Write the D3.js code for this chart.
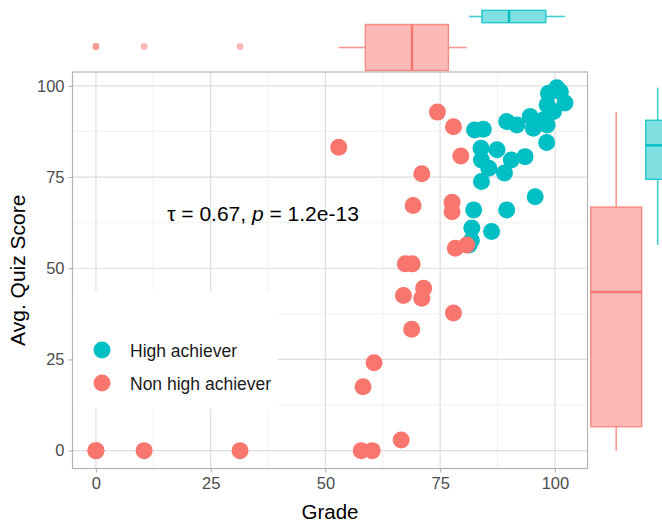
<!DOCTYPE html>
<html>
<head>
<meta charset="utf-8">
<script src="https://cdn.jsdelivr.net/npm/d3@7"></script>
<style>
  body { margin: 0; background: #fff; }
  text { font-family: "Liberation Sans", Arial, sans-serif; }
</style>
</head>
<body>
<div id="chart"></div>
<script>
// grade vs quiz score, split by achiever group
var groups = ["High achiever", "Non high achiever"];
var colors = ["#00BFC4", "#F8766D"];

var highGrade = [82.5, 84.4, 89.5, 91.7, 94.6, 95.3, 98.3, 98.2, 83.9, 87.4, 93.5, 84.0, 90.5, 85.6, 89.0,
    84.0, 95.7, 82.3, 89.5, 81.9, 86.2, 81.3, 98.6, 101.2, 102.2, 98.3, 99.7, 100.4, 97.5, 81.8];
var highQuiz = [87.9, 88.1, 90.2, 89.3, 91.6, 88.4, 89.3, 84.5, 82.9, 82.5, 80.6, 79.7, 79.7, 77.4, 76.1,
    73.8, 69.6, 66.0, 66.0, 61.0, 60.1, 56.4, 98.0, 98.4, 95.3, 94.8, 93.0, 99.5, 90.7, 57.6];

var nonGrade = [0, 0, 10.5, 31.4, 52.9, 57.8, 60.2, 58.2, 60.6, 66.5, 67.0, 67.4, 68.9, 68.8, 69.1,
    71.4, 71.0, 71.0, 74.4, 77.9, 77.6, 77.6, 78.3, 77.9, 79.5, 80.8];
var nonQuiz = [0, 0, 0, 0, 83.2, 0, 0, 17.5, 24.1, 2.9, 42.5, 51.2, 51.2, 33.3, 67.2,
    44.5, 41.8, 75.9, 92.8, 88.8, 68.1, 65.5, 55.5, 37.7, 80.8, 56.4];

var ticks = [0, 25, 50, 75, 100];
var minorTicks = [12.5, 37.5, 62.5, 87.5];
var annotation = {tau: "0.67", p: "1.2e-13"};

var width = 662, height = 526;
var panel = {left: 72.5, right: 587.5, top: 72, bottom: 468.5};

var svg = d3.select("#chart").append("svg")
    .attr("width", width)
    .attr("height", height);

var x = d3.scaleLinear().domain([-5.1, 107.1]).range([panel.left, panel.right]);
var y = d3.scaleLinear().domain([-4.9, 103.8]).range([panel.bottom, panel.top]);

// grid
var grid = svg.append("g");
grid.selectAll(".minx").data(minorTicks).enter().append("line")
    .attr("x1", d => x(d)).attr("x2", d => x(d))
    .attr("y1", panel.top).attr("y2", panel.bottom)
    .attr("stroke", "#EBEBEB").attr("stroke-width", 0.7);
grid.selectAll(".miny").data(minorTicks).enter().append("line")
    .attr("y1", d => y(d)).attr("y2", d => y(d))
    .attr("x1", panel.left).attr("x2", panel.right)
    .attr("stroke", "#EBEBEB").attr("stroke-width", 0.7);
grid.selectAll(".majx").data(ticks).enter().append("line")
    .attr("x1", d => x(d)).attr("x2", d => x(d))
    .attr("y1", panel.top).attr("y2", panel.bottom)
    .attr("stroke", "#DEDEDE").attr("stroke-width", 1.2);
grid.selectAll(".majy").data(ticks).enter().append("line")
    .attr("y1", d => y(d)).attr("y2", d => y(d))
    .attr("x1", panel.left).attr("x2", panel.right)
    .attr("stroke", "#DEDEDE").attr("stroke-width", 1.2);

// axes
var xAxis = svg.append("g")
    .attr("transform", "translate(0," + panel.bottom + ")")
    .call(d3.axisBottom(x).tickValues(ticks).tickSize(4).tickPadding(5));
var yAxis = svg.append("g")
    .attr("transform", "translate(" + panel.left + ",0)")
    .call(d3.axisLeft(y).tickValues(ticks).tickSize(4).tickPadding(4));
[xAxis, yAxis].forEach(function (a) {
    a.select(".domain").remove();
    a.selectAll(".tick line").attr("stroke", "#B3B3B3").attr("stroke-width", 1.1);
    a.selectAll(".tick text").attr("fill", "#4D4D4D").attr("font-size", "16.5px")
        .attr("font-family", "Liberation Sans, Arial, sans-serif");
});

// points
var highPts = highGrade.map((g, i) => ({g: g, q: highQuiz[i]}));
var nonPts = nonGrade.map((g, i) => ({g: g, q: nonQuiz[i]}));

svg.append("g").selectAll("circle").data(highPts).enter().append("circle")
    .attr("cx", d => x(d.g)).attr("cy", d => y(d.q)).attr("r", 8.5)
    .attr("fill", colors[0]);
svg.append("g").selectAll("circle").data(nonPts).enter().append("circle")
    .attr("cx", d => x(d.g)).attr("cy", d => y(d.q)).attr("r", 8.5)
    .attr("fill", colors[1]);

// panel border
svg.append("rect")
    .attr("x", panel.left).attr("y", panel.top)
    .attr("width", panel.right - panel.left).attr("height", panel.bottom - panel.top)
    .attr("fill", "none").attr("stroke", "#B3B3B3").attr("stroke-width", 1.2);

// legend (inside panel, white background)
var legend = svg.append("g");
legend.append("rect").attr("x", panel.left + 1).attr("y", 291).attr("width", 204).attr("height", 118)
    .attr("fill", "#fff");
groups.forEach(function (g, i) {
    var cy = 350 + i * 33;
    legend.append("circle").attr("cx", 102).attr("cy", cy).attr("r", 8.5).attr("fill", colors[i]);
    legend.append("text").attr("x", 130).attr("y", cy + 6.5)
        .attr("font-size", "17.5px").attr("fill", "#1A1A1A").text(g);
});

// correlation annotation
var ann = svg.append("text").attr("x", 263).attr("y", 221)
    .attr("text-anchor", "middle").attr("font-size", "21px").attr("fill", "#000");
ann.append("tspan").text("\u03C4 = " + annotation.tau + ", ");
ann.append("tspan").attr("font-style", "italic").text("p");
ann.append("tspan").text(" = " + annotation.p);

// axis titles
svg.append("text").attr("x", (panel.left + panel.right) / 2).attr("y", 519)
    .attr("text-anchor", "middle").attr("font-size", "20.5px").text("Grade");
svg.append("text")
    .attr("transform", "translate(25," + (panel.top + panel.bottom) / 2 + ") rotate(-90)")
    .attr("text-anchor", "middle").attr("font-size", "21px").text("Avg. Quiz Score");

// boxplot stats
function boxStats(vals) {
    var s = vals.slice().sort(d3.ascending);
    var q1 = d3.quantile(s, 0.25), med = d3.quantile(s, 0.5), q3 = d3.quantile(s, 0.75);
    var iqr = q3 - q1;
    var inside = s.filter(v => v >= q1 - 1.5 * iqr && v <= q3 + 1.5 * iqr);
    return {
        q1: q1, med: med, q3: q3,
        lo: d3.min(inside), hi: d3.max(inside),
        out: s.filter(v => v < q1 - 1.5 * iqr || v > q3 + 1.5 * iqr)
    };
}

// top marginal (grade)
var topBoxes = [
    {stats: boxStats(nonGrade), c: colors[1], mid: 47.5, half: 23},
    {stats: boxStats(highGrade), c: colors[0], mid: 16.5, half: 6.2}
];
topBoxes.forEach(function (b) {
    var s = b.stats, g = svg.append("g");
    g.append("line").attr("x1", x(s.lo)).attr("x2", x(s.q1)).attr("y1", b.mid).attr("y2", b.mid)
        .attr("stroke", b.c).attr("stroke-width", 1.6).attr("opacity", 0.75);
    g.append("line").attr("x1", x(s.q3)).attr("x2", x(s.hi)).attr("y1", b.mid).attr("y2", b.mid)
        .attr("stroke", b.c).attr("stroke-width", 1.6).attr("opacity", 0.75);
    g.append("rect").attr("x", x(s.q1)).attr("y", b.mid - b.half)
        .attr("width", x(s.q3) - x(s.q1)).attr("height", 2 * b.half)
        .attr("fill", b.c).attr("fill-opacity", 0.5)
        .attr("stroke", b.c).attr("stroke-opacity", 0.8).attr("stroke-width", 1.4);
    g.append("line").attr("x1", x(s.med)).attr("x2", x(s.med))
        .attr("y1", b.mid - b.half).attr("y2", b.mid + b.half)
        .attr("stroke", b.c).attr("stroke-width", 2.4);
    g.selectAll("circle").data(s.out).enter().append("circle")
        .attr("cx", d => x(d)).attr("cy", b.mid - 1).attr("r", 3.4)
        .attr("fill", b.c).attr("fill-opacity", 0.5);
});

// right marginal (quiz score)
var rightBoxes = [
    {stats: boxStats(nonQuiz), c: colors[1], mid: 616.2, half: 25.5},
    {stats: boxStats(highQuiz), c: colors[0], mid: 657.7, half: 12}
];
rightBoxes.forEach(function (b) {
    var s = b.stats, g = svg.append("g");
    g.append("line").attr("y1", y(s.lo)).attr("y2", y(s.q1)).attr("x1", b.mid).attr("x2", b.mid)
        .attr("stroke", b.c).attr("stroke-width", 1.6).attr("opacity", 0.75);
    g.append("line").attr("y1", y(s.q3)).attr("y2", y(s.hi)).attr("x1", b.mid).attr("x2", b.mid)
        .attr("stroke", b.c).attr("stroke-width", 1.6).attr("opacity", 0.75);
    g.append("rect").attr("y", y(s.q3)).attr("x", b.mid - b.half)
        .attr("height", y(s.q1) - y(s.q3)).attr("width", 2 * b.half)
        .attr("fill", b.c).attr("fill-opacity", 0.5)
        .attr("stroke", b.c).attr("stroke-opacity", 0.8).attr("stroke-width", 1.4);
    g.append("line").attr("y1", y(s.med)).attr("y2", y(s.med))
        .attr("x1", b.mid - b.half).attr("x2", b.mid + b.half)
        .attr("stroke", b.c).attr("stroke-width", 2.4);
    g.selectAll("circle").data(s.out).enter().append("circle")
        .attr("cy", d => y(d)).attr("cx", b.mid).attr("r", 3.4)
        .attr("fill", b.c).attr("fill-opacity", 0.5);
});
</script>
</body>
</html>
